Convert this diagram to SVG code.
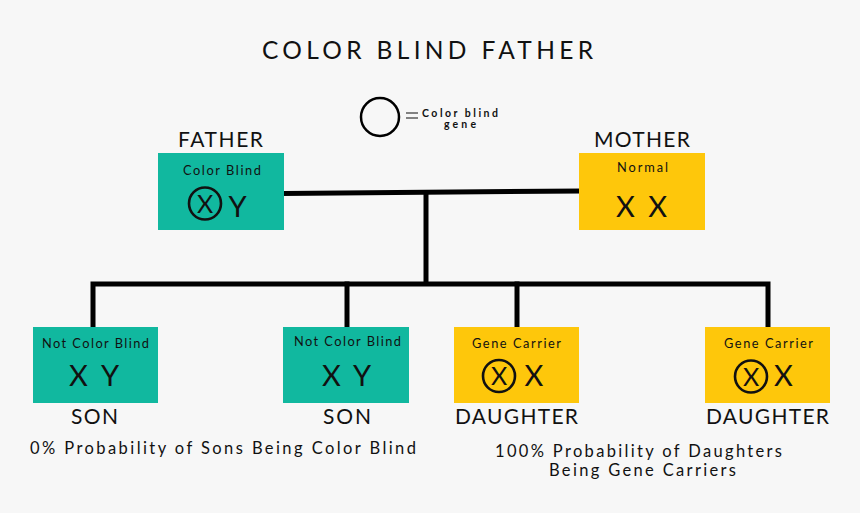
<svg xmlns="http://www.w3.org/2000/svg" width="860" height="513" viewBox="0 0 860 513">
<style>
text{font-family:Lato,"Liberation Sans",sans-serif;fill:#111;text-anchor:middle}
.title{font-size:24.5px}
.role{font-size:21px}
.sub{font-size:12.8px}
.gen{font-size:29px}
.cx{font-size:25px}
.note{font-size:16.5px}
.leg{font-size:10.5px;font-weight:bold}
.teal{fill:#11b89f}
.gold{fill:#fec70b}
.ring{fill:none;stroke:#111;stroke-width:2.6}
.conn{fill:none;stroke:#000;stroke-width:5;stroke-linecap:square;stroke-linejoin:miter}
</style>
<rect width="860" height="513" fill="#f7f7f7"/>
<text class="title" x="427.5" y="59" textLength="331" lengthAdjust="spacing">COLOR BLIND FATHER</text>
<g id="legend">
<circle cx="380" cy="117" r="19" fill="none" stroke="#000" stroke-width="2.5"/>
<line x1="406" y1="113" x2="418" y2="113" stroke="#333" stroke-width="1.2"/>
<line x1="406" y1="118" x2="418" y2="118" stroke="#333" stroke-width="1.2"/>
<text class="leg" x="460" y="117" textLength="76" lengthAdjust="spacing">Color blind</text>
<text class="leg" x="460" y="128" textLength="32" lengthAdjust="spacing">gene</text>
</g>
<g id="connectors">
<path class="conn" d="M284 193.5 L580 191"/>
<path class="conn" d="M426 193 L426 283"/>
<path class="conn" d="M93 326 L93 284 L768 284 L768 326"/>
<path class="conn" d="M347 284 L347 326"/>
<path class="conn" d="M517 284 L517 326"/>
</g>
<g id="father">
<text class="role" x="220.5" y="147" textLength="85" lengthAdjust="spacing">FATHER</text>
<rect class="teal" x="158" y="153" width="126" height="77"/>
<text class="sub" x="222" y="175" textLength="78" lengthAdjust="spacing">Color Blind</text>
<circle class="ring" cx="205" cy="203.5" r="16"/>
<text class="cx" x="205" y="212.5">X</text>
<text class="gen" x="237.5" y="217">Y</text>
</g>
<g id="mother">
<text class="role" x="642" y="147" textLength="96" lengthAdjust="spacing">MOTHER</text>
<rect class="gold" x="579" y="153" width="126" height="77"/>
<text class="sub" x="642.5" y="172" textLength="51" lengthAdjust="spacing">Normal</text>
<text class="gen" x="641.5" y="217" textLength="51" lengthAdjust="spacing">X X</text>
</g>
<g id="son1">
<rect class="teal" x="33" y="327" width="125" height="76"/>
<text class="sub" x="95.5" y="347.5" textLength="107" lengthAdjust="spacing">Not Color Blind</text>
<text class="gen" x="94" y="386" textLength="50" lengthAdjust="spacing">X Y</text>
<text class="role" x="94.5" y="424" textLength="47" lengthAdjust="spacing">SON</text>
</g>
<g id="son2">
<rect class="teal" x="283" y="327" width="126" height="76"/>
<text class="sub" x="347.5" y="345.5" textLength="107" lengthAdjust="spacing">Not Color Blind</text>
<text class="gen" x="346.5" y="386" textLength="49" lengthAdjust="spacing">X Y</text>
<text class="role" x="347" y="424" textLength="48" lengthAdjust="spacing">SON</text>
</g>
<g id="daughter1">
<rect class="gold" x="454" y="327" width="125" height="76"/>
<text class="sub" x="516.5" y="347.5" textLength="89" lengthAdjust="spacing">Gene Carrier</text>
<circle class="ring" cx="499" cy="376" r="16"/>
<text class="cx" x="499" y="385">X</text>
<text class="gen" x="534" y="386">X</text>
<text class="role" x="516.5" y="424" textLength="123" lengthAdjust="spacing">DAUGHTER</text>
</g>
<g id="daughter2">
<rect class="gold" x="705" y="327" width="125" height="76"/>
<text class="sub" x="768.5" y="348" textLength="89" lengthAdjust="spacing">Gene Carrier</text>
<circle class="ring" cx="751" cy="376.5" r="16"/>
<text class="cx" x="751" y="385.5">X</text>
<text class="gen" x="783.5" y="386">X</text>
<text class="role" x="767.5" y="424" textLength="123" lengthAdjust="spacing">DAUGHTER</text>
</g>
<g id="notes">
<text class="note" x="223" y="454" textLength="386" lengthAdjust="spacing">0% Probability of Sons Being Color Blind</text>
<text class="note" x="638.5" y="457" textLength="287" lengthAdjust="spacing">100% Probability of Daughters</text>
<text class="note" x="642.5" y="476" textLength="187" lengthAdjust="spacing">Being Gene Carriers</text>
</g>
</svg>
